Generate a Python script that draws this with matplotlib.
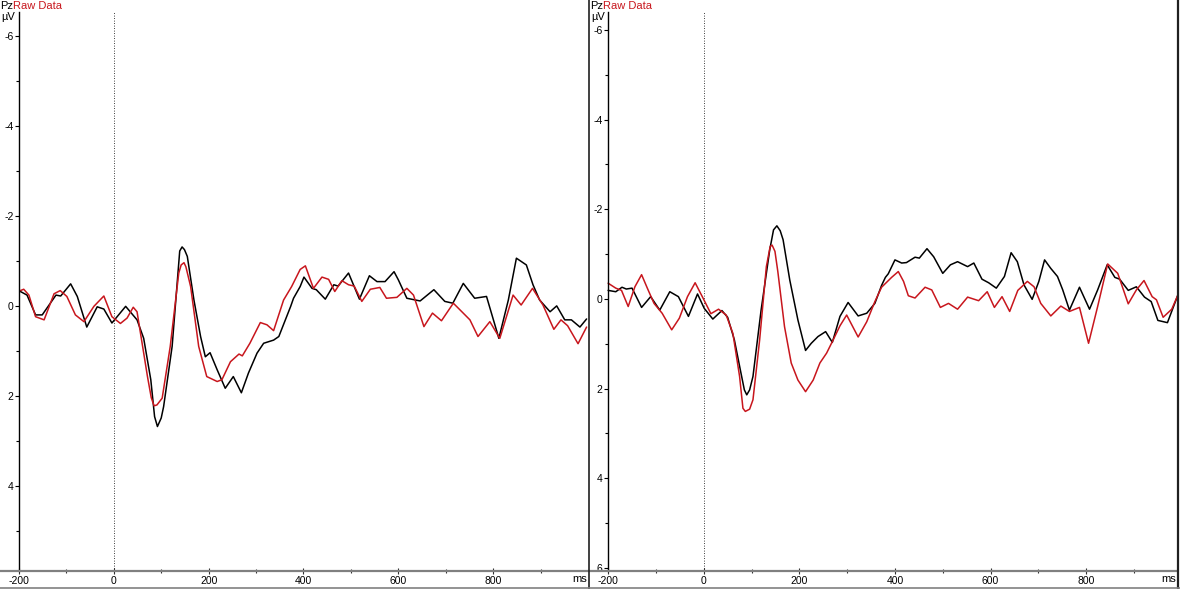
import matplotlib
matplotlib.use("Agg")
import matplotlib.pyplot as plt
from matplotlib.lines import Line2D
from matplotlib.ticker import FixedLocator

plt.rcParams['font.family'] = ['Liberation Sans', 'DejaVu Sans']
plt.rcParams['axes.unicode_minus'] = False

# ---------------- data (ms, µV) ----------------
left_black_t = [-197, -183, -165, -151, -122, -112, -91, -77, -57, -35, -21, -4, 25, 49, 63, 78, 86, 92, 100, 105,
                123, 139, 144, 149, 155, 169, 183, 193, 203, 218, 235, 252, 269, 284, 302, 316, 337, 348, 373, 379,
                393, 401, 418, 427, 446, 464, 473, 495, 518, 539, 555, 572, 591, 600, 618, 646, 675, 698, 715, 737,
                761, 786, 812, 832, 849, 870, 884, 898, 920, 934, 951, 965, 983, 997]
left_black_v = [-0.32, -0.24, 0.2, 0.2, -0.24, -0.22, -0.49, -0.21, 0.47, 0.02, 0.07, 0.38, 0.01, 0.31, 0.72, 1.64,
                2.46, 2.68, 2.49, 2.24, 0.9, -1.22, -1.31, -1.25, -1.1, -0.13, 0.68, 1.13, 1.04, 1.42, 1.83, 1.57,
                1.93, 1.49, 1.05, 0.83, 0.76, 0.68, 0.01, -0.17, -0.43, -0.64, -0.39, -0.36, -0.15, -0.47, -0.44,
                -0.73, -0.15, -0.67, -0.54, -0.54, -0.76, -0.58, -0.17, -0.11, -0.36, -0.1, -0.06, -0.5, -0.17,
                -0.21, 0.72, -0.13, -1.06, -0.91, -0.47, -0.13, 0.13, 0.0, 0.31, 0.31, 0.47, 0.29]

left_red_t = [-197, -190, -179, -165, -147, -126, -113, -99, -81, -63, -42, -21, -4, 14, 28, 41, 49, 71, 79, 85, 91,
              102, 119, 137, 142, 148, 152, 162, 179, 196, 218, 228, 246, 264, 271, 287, 309, 323, 337, 358, 375,
              393, 404, 421, 439, 453, 466, 481, 495, 507, 523, 541, 561, 575, 597, 618, 632, 654, 672, 691, 716,
              734, 751, 768, 793, 814, 842, 859, 883, 905, 928, 943, 957, 979, 997]
left_red_v = [-0.34, -0.37, -0.24, 0.24, 0.31, -0.27, -0.34, -0.21, 0.2, 0.35, 0.01, -0.22, 0.24, 0.39, 0.27, 0.03,
              0.13, 1.57, 2.04, 2.22, 2.2, 2.05, 0.9, -0.73, -0.91, -0.96, -0.87, -0.43, 0.9, 1.57, 1.68, 1.64, 1.24,
              1.07, 1.11, 0.83, 0.37, 0.42, 0.55, -0.13, -0.43, -0.81, -0.89, -0.39, -0.64, -0.59, -0.32, -0.56,
              -0.47, -0.44, -0.1, -0.37, -0.41, -0.17, -0.19, -0.39, -0.24, 0.46, 0.16, 0.33, -0.06, 0.13, 0.31,
              0.68, 0.35, 0.72, -0.24, -0.02, -0.39, -0.02, 0.52, 0.31, 0.44, 0.84, 0.47]

right_black_t = [-200, -184, -171, -162, -150, -130, -111, -92, -71, -53, -32, -13, 1, 19, 38, 50, 64, 78, 85, 90,
                 96, 103, 120, 138, 146, 153, 160, 166, 180, 197, 213, 225, 239, 255, 269, 285, 302, 323, 341, 358,
                 372, 380, 386, 400, 414, 424, 442, 451, 467, 481, 500, 516, 531, 552, 565, 582, 596, 612, 629, 643,
                 656, 670, 687, 701, 713, 726, 740, 751, 765, 786, 807, 824, 844, 860, 870, 888, 905, 922, 936, 950,
                 970, 992]
right_black_v = [-0.19, -0.16, -0.26, -0.22, -0.24, 0.19, -0.05, 0.25, -0.16, -0.05, 0.39, -0.11, 0.21, 0.45, 0.26,
                 0.41, 0.91, 1.66, 2.03, 2.14, 2.03, 1.73, 0.25, -1.09, -1.54, -1.63, -1.52, -1.32, -0.42, 0.47,
                 1.15, 0.99, 0.84, 0.73, 0.97, 0.39, 0.08, 0.38, 0.32, 0.1, -0.3, -0.48, -0.56, -0.87, -0.8, -0.81,
                 -0.93, -0.91, -1.12, -0.94, -0.57, -0.76, -0.83, -0.72, -0.8, -0.44, -0.36, -0.24, -0.5, -1.03,
                 -0.83, -0.31, 0.01, -0.39, -0.87, -0.68, -0.5, -0.2, 0.25, -0.26, 0.23, -0.2, -0.76, -0.48, -0.44,
                 -0.19, -0.27, -0.04, 0.06, 0.48, 0.53, -0.09]

right_red_t = [-200, -184, -172, -158, -144, -130, -118, -104, -87, -67, -51, -34, -18, -3, 15, 31, 47, 61, 75, 82,
               87, 96, 103, 117, 131, 139, 143, 149, 155, 169, 183, 197, 213, 229, 243, 257, 271, 285, 299, 323, 341,
               358, 372, 393, 407, 418, 428, 442, 463, 477, 495, 512, 531, 552, 575, 593, 608, 624, 640, 657, 677,
               691, 705, 726, 747, 765, 786, 805, 824, 845, 866, 888, 905, 921, 938, 947, 961, 979, 992]
right_red_v = [-0.35, -0.24, -0.19, 0.17, -0.27, -0.54, -0.24, 0.1, 0.32, 0.69, 0.43, -0.05, -0.36, -0.05, 0.33,
               0.23, 0.36, 0.77, 1.73, 2.44, 2.51, 2.46, 2.25, 0.91, -0.72, -1.17, -1.2, -1.06, -0.61, 0.62, 1.43,
               1.81, 2.07, 1.81, 1.43, 1.21, 0.91, 0.6, 0.36, 0.85, 0.51, 0.06, -0.26, -0.48, -0.61, -0.39, -0.07,
               -0.02, -0.26, -0.2, 0.19, 0.1, 0.23, -0.04, 0.04, -0.16, 0.19, -0.05, 0.28, -0.19, -0.39, -0.27, 0.1,
               0.38, 0.16, 0.28, 0.19, 0.99, 0.17, -0.78, -0.57, 0.11, -0.2, -0.41, -0.05, 0.02, 0.41, 0.23, -0.09]

x_ticks = [-200, 0, 200, 400, 600, 800]
x_minor = [-100, 100, 300, 500, 700, 900]
left_y_ticks = [-6, -4, -2, 0, 2, 4]
right_y_ticks = [-6, -4, -2, 0, 2, 4, 6]
y_minor = [-5, -3, -1, 1, 3, 5]
channel = "Pz"
series_name = "Raw Data"
unit_y = "µV"
unit_x = "ms"

RED = '#c8161d'
W, H = 1180, 589

fig = plt.figure(figsize=(W / 100, H / 100), dpi=100)
fig.patch.set_facecolor('white')


def make_panel(x0px, widthpx, xlim, ylim, yticks, bt, bv, rt, rv):
    top, bottom = 12, 571
    ax = fig.add_axes([x0px / W, 1 - bottom / H, widthpx / W, (bottom - top) / H])
    ax.set_xlim(*xlim)
    ax.set_ylim(*ylim)
    for s in ('top', 'right'):
        ax.spines[s].set_visible(False)
    ax.spines['left'].set_position(('data', -200))
    ax.spines['left'].set_color('black')
    ax.spines['left'].set_linewidth(1.0)
    ax.spines['bottom'].set_color('#808080')
    ax.spines['bottom'].set_linewidth(1.6)
    ax.xaxis.set_major_locator(FixedLocator(x_ticks))
    ax.xaxis.set_minor_locator(FixedLocator(x_minor))
    ax.yaxis.set_major_locator(FixedLocator(yticks))
    ax.yaxis.set_minor_locator(FixedLocator(y_minor))
    ax.tick_params(axis='x', which='major', direction='inout', length=5, width=0.8, color='#303030',
                   labelsize=7.5, pad=1)
    ax.tick_params(axis='x', which='minor', direction='inout', length=2.5, width=0.8, color='#303030')
    ax.tick_params(axis='y', which='major', direction='out', length=3, width=0.8, labelsize=7.5, pad=1)
    ax.tick_params(axis='y', which='minor', direction='out', length=2, width=0.8)
    ax.axvline(0, color='black', lw=0.6, ls=(0, (1, 2)))
    ax.plot(bt, bv, color='black', lw=1.1, solid_joinstyle='round', solid_capstyle='round')
    ax.plot(rt, rv, color=RED, lw=1.1, solid_joinstyle='round', solid_capstyle='round')
    return ax


make_panel(0, 588, (-240, 1000), (5.89, -6.53), left_y_ticks,
           left_black_t, left_black_v, left_red_t, left_red_v)
make_panel(589, 588, (-240, 990), (6.07, -6.40), right_y_ticks,
           right_black_t, right_black_v, right_red_t, right_red_v)

# headers and units
for xpx in (0, 590):
    fig.text((xpx + 0.5) / W, 1 - 6 / H, channel, fontsize=8, color='black', va='center', ha='left')
    fig.text((xpx + 13) / W, 1 - 6 / H, series_name, fontsize=8, color=RED, va='center', ha='left')
    fig.text((xpx + 1.5) / W, 1 - 17 / H, unit_y, fontsize=8, color='black', va='center', ha='left')
for xpx in (587, 1176):
    fig.text(xpx / W, 1 - 579 / H, unit_x, fontsize=8, color='black', va='center', ha='right')

# panel frames
fig.add_artist(Line2D([588.5 / W, 588.5 / W], [0, 1], color='#202020', lw=1.2))
fig.add_artist(Line2D([1178 / W, 1178 / W], [0, 1], color='#202020', lw=1.6))
fig.add_artist(Line2D([0, 1], [1 - 587.5 / H, 1 - 587.5 / H], color='#808080', lw=1.2))

fig.savefig('out.png', dpi=100, facecolor='white')
